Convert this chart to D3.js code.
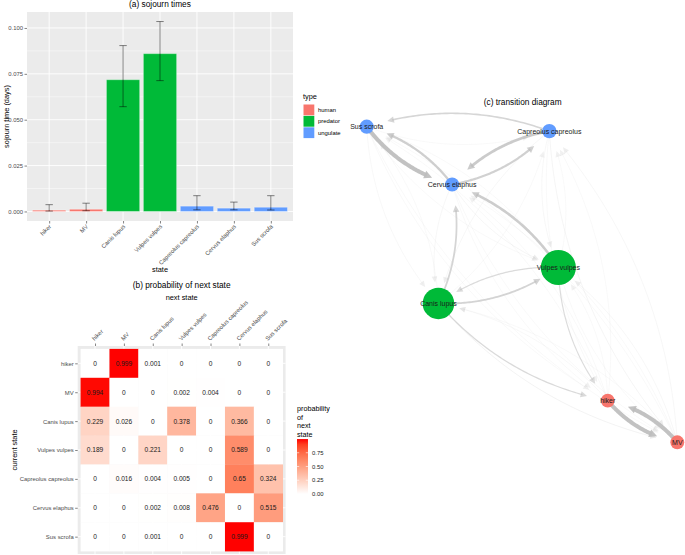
<!DOCTYPE html>
<html><head><meta charset="utf-8">
<script src="https://cdn.jsdelivr.net/npm/d3@7"></script>
<style>
body{margin:0;background:#fff;}
svg{display:block;font-family:"Liberation Sans",Arial,Helvetica,sans-serif;}
</style></head>
<body><svg id="chart" width="685" height="555"></svg>
<script>
// ---------------- data ----------------
const states = ["hiker","MV","Canis lupus","Vulpes vulpes","Capreolus capreolus","Cervus elaphus","Sus scrofa"];
const stateTypes = ["human","human","predator","predator","ungulate","ungulate","ungulate"];
const typeNames = ["human","predator","ungulate"];
const typeColors = ["#F8766D","#00BA38","#619CFF"];
const sojourn = [0.0007,0.0012,0.0718,0.0860,0.0029,0.0018,0.0023];
const sojournLow = [0.0002,0.0004,0.0571,0.0713,0.0009,0.0009,0.0008];
const sojournHigh = [0.0037,0.0045,0.0904,0.1035,0.0086,0.0051,0.0086];
const yTicksA = [0,0.025,0.05,0.075,0.1];
const yMinorA = [0.0125,0.0375,0.0625,0.0875];
// transition probabilities: rows = current state, cols = next state
const probHiker = [0,0.999,0.001,0,0,0,0];
const probMV = [0.994,0,0,0.002,0.004,0,0];
const probCanis = [0.229,0.026,0,0.378,0,0.366,0];
const probVulpes = [0.189,0,0.221,0,0,0.589,0];
const probCapreolus = [0,0.016,0.004,0.005,0,0.65,0.324];
const probCervus = [0,0,0.002,0.008,0.476,0,0.515];
const probSus = [0,0,0.001,0,0,0.999,0];
const probMatrix = [probHiker,probMV,probCanis,probVulpes,probCapreolus,probCervus,probSus];
const legendTicksB = [0,0.25,0.5,0.75];
// network layout (normalised coordinates)
const layoutX = [0.776,1,0.231,0.617,0.588,0.275,0];
const layoutY = [0.868,1,0.560,0.446,0.014,0.183,0];

const svg = d3.select("#chart");
const gray = "#4d4d4d";
const tickFont = 5.9;
const colorOf = t => typeColors[typeNames.indexOf(t)];

// ---------------- (a) sojourn times ----------------
const pA = {l:27,r:293,t:12,b:221};
const xA = d3.scalePoint().domain(states).range([pA.l,pA.r]).padding(0.6);
const yA = d3.scaleLinear().domain([-0.0052,0.1087]).range([pA.b,pA.t]);
const gA = svg.append("g");
gA.append("rect").attr("x",pA.l).attr("y",pA.t).attr("width",pA.r-pA.l).attr("height",pA.b-pA.t).attr("fill","#EBEBEB");
gA.selectAll(".minor").data(yMinorA).join("line").attr("x1",pA.l).attr("x2",pA.r)
  .attr("y1",d=>yA(d)).attr("y2",d=>yA(d)).attr("stroke","#fff").attr("stroke-width",0.45);
gA.selectAll(".major").data(yTicksA).join("line").attr("x1",pA.l).attr("x2",pA.r)
  .attr("y1",d=>yA(d)).attr("y2",d=>yA(d)).attr("stroke","#fff").attr("stroke-width",0.9);
gA.selectAll(".vmaj").data(states).join("line").attr("y1",pA.t).attr("y2",pA.b)
  .attr("x1",d=>xA(d)).attr("x2",d=>xA(d)).attr("stroke","#fff").attr("stroke-width",0.9);
const bw = xA.step()*0.9;
gA.selectAll(".bar").data(states).join("rect")
  .attr("x",d=>xA(d)-bw/2).attr("width",bw)
  .attr("y",(d,i)=>yA(sojourn[i])).attr("height",(d,i)=>yA(0)-yA(sojourn[i]))
  .attr("fill",(d,i)=>colorOf(stateTypes[i]))
  .attr("stroke","#fff").attr("stroke-opacity",0.35).attr("stroke-width",1);
const cw = xA.step()*0.2;
const eb = gA.selectAll(".eb").data(states).join("g").attr("stroke","#000").attr("stroke-opacity",0.6).attr("stroke-width",0.8);
eb.append("line").attr("x1",d=>xA(d)).attr("x2",d=>xA(d)).attr("y1",(d,i)=>yA(sojournLow[i])).attr("y2",(d,i)=>yA(sojournHigh[i]));
eb.append("line").attr("x1",d=>xA(d)-cw/2).attr("x2",d=>xA(d)+cw/2).attr("y1",(d,i)=>yA(sojournLow[i])).attr("y2",(d,i)=>yA(sojournLow[i]));
eb.append("line").attr("x1",d=>xA(d)-cw/2).attr("x2",d=>xA(d)+cw/2).attr("y1",(d,i)=>yA(sojournHigh[i])).attr("y2",(d,i)=>yA(sojournHigh[i]));
// axes
const axYA = d3.axisLeft(yA).tickValues(yTicksA).tickFormat(d3.format(".3f")).tickSize(2.5).tickPadding(1.5);
const gyA = gA.append("g").attr("transform",`translate(${pA.l},0)`).call(axYA);
gyA.select(".domain").remove();
gyA.selectAll("line").attr("stroke","#333").attr("stroke-width",0.6);
gyA.selectAll("text").attr("fill",gray).attr("font-size",tickFont).attr("font-family",null);
const axXA = d3.axisBottom(xA).tickSize(2.5).tickPadding(1.5);
const gxA = gA.append("g").attr("transform",`translate(0,${pA.b})`).call(axXA);
gxA.select(".domain").remove();
gxA.selectAll("line").attr("stroke","#333").attr("stroke-width",0.6);
gxA.selectAll("text").attr("fill",gray).attr("font-size",tickFont).attr("font-family",null)
  .attr("text-anchor","end").attr("dy",null).attr("y",0)
  .attr("transform","translate(2,6) rotate(-45)");
gA.append("text").attr("x",(pA.l+pA.r)/2).attr("y",7).attr("text-anchor","middle").attr("font-size",8.3).text("(a) sojourn times");
gA.append("text").attr("x",(pA.l+pA.r)/2).attr("y",272).attr("text-anchor","middle").attr("font-size",7.4).text("state");
gA.append("text").attr("transform",`translate(9,${(pA.t+pA.b)/2}) rotate(-90)`).attr("text-anchor","middle").attr("font-size",7.4).text("sojourn time (days)");
// legend (a)
const lgA = svg.append("g");
lgA.append("text").attr("x",303).attr("y",99).attr("font-size",7.4).text("type");
lgA.selectAll(".k").data(typeNames).join("rect").attr("x",303.5).attr("y",(d,i)=>104.5+i*11.4)
  .attr("width",10.8).attr("height",10.8).attr("fill",(d,i)=>typeColors[i]);
lgA.selectAll(".kt").data(typeNames).join("text").attr("x",318).attr("y",(d,i)=>110+i*11.4+2)
  .attr("font-size",tickFont).text(d=>d);

// ---------------- (b) heatmap ----------------
const pB = {l:77.7,r:285.6,t:346,b:554};
const xB = d3.scalePoint().domain(states).range([pB.l,pB.r]).padding(0.6);
const yB = d3.scalePoint().domain(states).range([pB.t,pB.b]).padding(0.6);
const colB = d3.scaleLinear().domain([0,1]).range(["#ffffff","#ff0000"]).interpolate(d3.interpolateLab);
const gB = svg.append("g");
gB.append("rect").attr("x",pB.l).attr("y",pB.t).attr("width",pB.r-pB.l).attr("height",pB.b-pB.t).attr("fill","#EBEBEB");
gB.selectAll(".gv").data(states).join("line").attr("x1",d=>xB(d)).attr("x2",d=>xB(d)).attr("y1",pB.t).attr("y2",pB.b).attr("stroke","#fff").attr("stroke-width",0.9);
gB.selectAll(".gh").data(states).join("line").attr("y1",d=>yB(d)).attr("y2",d=>yB(d)).attr("x1",pB.l).attr("x2",pB.r).attr("stroke","#fff").attr("stroke-width",0.9);
const cells = [];
probMatrix.forEach((row,i)=>row.forEach((v,j)=>cells.push({from:states[i],to:states[j],v})));
const ts = xB.step();
gB.selectAll(".tile").data(cells).join("rect")
  .attr("x",d=>xB(d.to)-ts/2).attr("y",d=>yB(d.from)-ts/2).attr("width",ts+0.3).attr("height",ts+0.3)
  .attr("fill",d=>colB(d.v));
gB.selectAll(".lbl").data(cells).join("text")
  .attr("x",d=>xB(d.to)).attr("y",d=>yB(d.from)+2.4).attr("text-anchor","middle")
  .attr("font-size",6.6).attr("fill","#1a1a1a").text(d=>String(d.v));
const axXB = d3.axisTop(xB).tickSize(2.5).tickPadding(1.5);
const gxB = gB.append("g").attr("transform",`translate(0,${pB.t})`).call(axXB);
gxB.select(".domain").remove();
gxB.selectAll("line").attr("stroke","#333").attr("stroke-width",0.6);
gxB.selectAll("text").attr("fill",gray).attr("font-size",tickFont).attr("font-family",null)
  .attr("text-anchor","start").attr("dy",null).attr("y",0)
  .attr("transform","translate(-1,-5) rotate(-45)");
const axYB = d3.axisLeft(yB).tickSize(2.5).tickPadding(1.5);
const gyB = gB.append("g").attr("transform",`translate(${pB.l},0)`).call(axYB);
gyB.select(".domain").remove();
gyB.selectAll("line").attr("stroke","#333").attr("stroke-width",0.6);
gyB.selectAll("text").attr("fill",gray).attr("font-size",tickFont).attr("font-family",null);
gB.append("text").attr("x",(pB.l+pB.r)/2).attr("y",288).attr("text-anchor","middle").attr("font-size",8.3).text("(b) probability of next state");
gB.append("text").attr("x",(pB.l+pB.r)/2).attr("y",299.5).attr("text-anchor","middle").attr("font-size",7.4).text("next state");
gB.append("text").attr("transform",`translate(17,${(pB.t+pB.b)/2}) rotate(-90)`).attr("text-anchor","middle").attr("font-size",7.4).text("current state");
// legend (b)
const lgB = svg.append("g");
["probability","of","next","state"].forEach((s,i)=>lgB.append("text").attr("x",297).attr("y",411+i*8.6).attr("font-size",7.2).text(s));
const yLeg = d3.scaleLinear().domain([0,1]).range([494,439]);
const grad = svg.append("defs").append("linearGradient").attr("id","gB").attr("x1",0).attr("x2",0).attr("y1",1).attr("y2",0);
d3.range(0,1.01,0.1).forEach(t=>grad.append("stop").attr("offset",t).attr("stop-color",colB(t)));
lgB.append("rect").attr("x",297).attr("y",yLeg(0.999)).attr("width",11).attr("height",yLeg(0)-yLeg(0.999)).attr("fill","url(#gB)");
lgB.selectAll(".lt").data(legendTicksB).join("g").each(function(d){
  const g=d3.select(this);
  g.append("line").attr("x1",297).attr("x2",299.2).attr("y1",yLeg(d)).attr("y2",yLeg(d)).attr("stroke","#fff").attr("stroke-width",0.6);
  g.append("line").attr("x1",305.8).attr("x2",308).attr("y1",yLeg(d)).attr("y2",yLeg(d)).attr("stroke","#fff").attr("stroke-width",0.6);
  g.append("text").attr("x",312).attr("y",yLeg(d)+2).attr("font-size",tickFont).attr("fill","#1a1a1a").text(d3.format(".2f")(d));
});

// ---------------- (c) transition diagram ----------------
const xC = d3.scaleLinear().domain([0,1]).range([366.7,677.3]);
const yC = d3.scaleLinear().domain([0,1]).range([126.7,442.3]);
const rC = d3.scaleLinear().domain([0,0.1]).range([6.8,19.3]);
const nodes = states.map((s,i)=>({name:s,type:stateTypes[i],x:xC(layoutX[i]),y:yC(layoutY[i]),r:rC(sojourn[i])}));
const edges = [];
probMatrix.forEach((row,i)=>row.forEach((v,j)=>{ if(i!==j) edges.push({s:nodes[i],t:nodes[j],p:v}); }));
edges.sort((a,b)=>a.p-b.p);
const gC = svg.append("g");
gC.append("text").attr("x",522.7).attr("y",105).attr("text-anchor","middle").attr("font-size",8.3).text("(c) transition diagram");
const curveK = 0.17;
const lineGen = d3.line();
edges.forEach(e=>{
  const x0=e.s.x,y0=e.s.y,x2=e.t.x,y2=e.t.y;
  const dx=x2-x0,dy=y2-y0;
  const cx=(x0+x2)/2 - curveK*dy, cy=(y0+y2)/2 + curveK*dx;
  const B=t=>[(1-t)*(1-t)*x0+2*(1-t)*t*cx+t*t*x2,(1-t)*(1-t)*y0+2*(1-t)*t*cy+t*t*y2];
  const tipD = Math.max(e.t.r+3,21);
  const aLen = 6+2*e.p, aW = 2.8+1.2*e.p;
  let t1=1; for(let t=1;t>0;t-=0.002){const q=B(t); if(Math.hypot(q[0]-x2,q[1]-y2)>=tipD){t1=t;break;}}
  const tip=B(t1);
  let t1b=t1; for(let t=t1;t>0;t-=0.002){const q=B(t); if(Math.hypot(q[0]-tip[0],q[1]-tip[1])>=aLen*0.7){t1b=t;break;}}
  const pts=d3.range(0,61).map(k=>B(t1b*k/60));
  const col="#bdbdbd", op=0.22+0.7*Math.sqrt(e.p);
  gC.append("path").attr("d",lineGen(pts)).attr("fill","none").attr("stroke",col)
    .attr("stroke-opacity",op).attr("stroke-width",0.45+3.6*e.p);
  const pb=B(Math.max(0,t1-0.02));
  const ang=Math.atan2(tip[1]-pb[1],tip[0]-pb[0]);
  const ux=Math.cos(ang),uy=Math.sin(ang);
  const bx=tip[0]-ux*aLen,by=tip[1]-uy*aLen;
  gC.append("path").attr("d",`M${tip[0]},${tip[1]}L${bx-uy*aW},${by+ux*aW}L${bx+uy*aW},${by-ux*aW}Z`)
    .attr("fill",col).attr("fill-opacity",op);
});
gC.selectAll(".node").data(nodes).join("circle").attr("cx",d=>d.x).attr("cy",d=>d.y).attr("r",d=>d.r)
  .attr("fill",d=>colorOf(d.type));
gC.selectAll(".nl").data(nodes).join("text").attr("x",d=>d.x).attr("y",d=>d.y+2.5).attr("text-anchor","middle")
  .attr("font-size",7).attr("fill","#1a1a1a").text(d=>d.name);
</script></body></html>
